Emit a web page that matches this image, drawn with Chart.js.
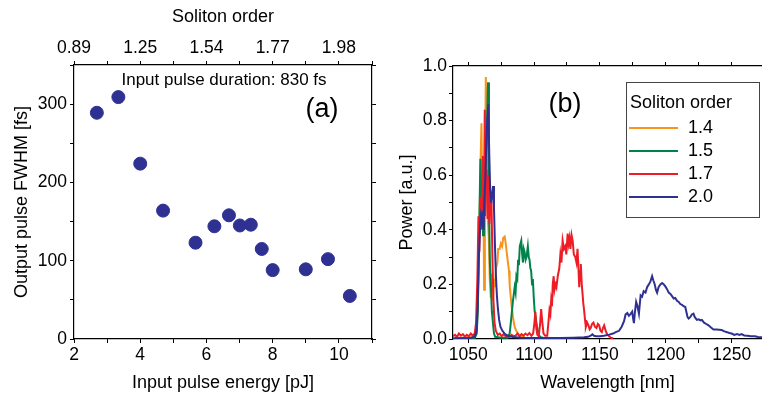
<!DOCTYPE html>
<html>
<head>
<meta charset="utf-8">
<script src="https://cdn.jsdelivr.net/npm/chart.js@4.4.1/dist/chart.umd.min.js"></script>
<style>
  html, body { margin: 0; padding: 0; background: #fff; }
  #wrap { position: relative; width: 762px; height: 398px; }
  canvas { position: absolute; top: 0; }
  #left { left: 0; }
  #right { left: 390px; }
</style>
</head>
<body>
<div id="wrap">
  <canvas id="left" width="390" height="398"></canvas>
  <canvas id="right" width="372" height="398"></canvas>
</div>
<script>
// (a) output pulse width vs input energy
const energy = [2.69, 3.34, 4.0, 4.69, 5.67, 6.24, 6.68, 7.01, 7.34, 7.67, 8.0, 9.0, 9.67, 10.33];
const fwhm = [289, 309, 224, 164, 123, 144, 158, 145, 146, 115, 88, 89, 102, 55];
const energyTicks = [2, 3, 4, 5, 6, 7, 8, 9, 10, 11];
const energyLabels = { 2: '2', 4: '4', 6: '6', 8: '8', 10: '10' };
const solitonLabels = { 2: '0.89', 4: '1.25', 6: '1.54', 8: '1.77', 10: '1.98' };
const fwhmTicks = [0, 50, 100, 150, 200, 250, 300, 350];

// (b) spectra for different soliton orders
const seriesNames = ['1.4', '1.5', '1.7', '2.0'];

const wl14 = [1040, 1050, 1055, 1056.5, 1057.5, 1058.5, 1059.3, 1060.1, 1060.7, 1061.4, 1062.1, 1062.7, 1063.4, 1064.1,
  1064.8, 1065.6, 1066.4, 1067.2, 1068, 1068.8, 1069.6, 1070.3, 1071.2, 1072.2, 1072.8, 1073.9, 1074.8, 1075.8,
  1076.6, 1077.7, 1078.5, 1079.2, 1080.2, 1081, 1081.5, 1082.2, 1083, 1084, 1085.3, 1086.5, 1087.8, 1089, 1091, 1093];
const p14 = [0.005, 0.005, 0.01, 0.03, 0.15, 0.4, 0.62, 0.79, 0.5, 0.66, 0.18, 0.6, 0.96, 0.72,
  0.45, 0.38, 0.22, 0.15, 0.24, 0.14, 0.22, 0.19, 0.26, 0.28, 0.33, 0.33, 0.35, 0.34,
  0.37, 0.375, 0.35, 0.32, 0.28, 0.25, 0.2, 0.16, 0.12, 0.08, 0.044, 0.03, 0.02, 0.012, 0.01, 0.008];

const wl15 = [1040, 1055, 1056.5, 1057.3, 1058.2, 1059.3, 1059.9, 1060.6, 1061.3, 1062, 1062.8, 1063.6, 1064.4, 1065.1,
  1065.8, 1066.5, 1067.2, 1068, 1068.8, 1069.6, 1070.5, 1075, 1080, 1081.5, 1082.8, 1084, 1085.3, 1086, 1086.6,
  1087.3, 1087.9, 1088.5, 1089.2, 1090.3, 1091, 1091.6, 1092.2, 1092.8, 1093.6, 1094.3, 1095.3, 1096, 1096.6,
  1097.2, 1097.8, 1098.5, 1099.1, 1099.8, 1100.5, 1101.2, 1102.3, 1103.6, 1105, 1107];
const p15 = [0.003, 0.004, 0.02, 0.1, 0.35, 0.66, 0.42, 0.58, 0.38, 0.52, 0.45, 0.68, 0.8, 0.94,
  0.5, 0.28, 0.2, 0.1, 0.06, 0.02, 0.008, 0.005, 0.005, 0.02, 0.08, 0.14, 0.19, 0.17, 0.23,
  0.22, 0.29, 0.27, 0.34, 0.36, 0.31, 0.28, 0.33, 0.32, 0.29, 0.3, 0.34, 0.3, 0.29,
  0.26, 0.25, 0.2, 0.22, 0.15, 0.1, 0.08, 0.044, 0.015, 0.006, 0.005];

const wl17 = [1038.5, 1040, 1041.5, 1043, 1044.5, 1046, 1047.5, 1049, 1050.5, 1052, 1053.5, 1055, 1056, 1057,
  1057.8, 1058.5, 1059.2, 1060, 1060.6, 1061.3, 1061.9, 1062.6, 1063.3, 1064, 1064.7, 1065.4, 1066.1, 1066.8,
  1067.7, 1068.4, 1069.2, 1070, 1071, 1072.5, 1074, 1075.5, 1077, 1078.5, 1080, 1081.5, 1083, 1084.5, 1086,
  1087.5, 1089, 1090.5, 1092, 1093.5, 1095, 1096.5, 1098, 1099.3, 1100.3, 1101, 1101.7, 1102.5, 1103.5, 1104.5,
  1105.4, 1106.3, 1107.2, 1108.5, 1110, 1110.9, 1111.7, 1112.4, 1113, 1113.6, 1114.2, 1114.9, 1115.5, 1116.3,
  1117, 1118, 1119.2, 1120, 1120.8, 1121.7, 1122.7, 1123.7, 1124.5, 1125.5, 1126.2, 1126.9, 1127.6, 1128.5,
  1129.3, 1130.2, 1131.3, 1132.2, 1133, 1133.7, 1134.3, 1134.9, 1135.5, 1136.2, 1136.8, 1137.4, 1138, 1138.7,
  1139.3, 1140.3, 1141.3, 1142.2, 1143, 1144, 1145.1, 1146.2, 1147.4, 1148.4, 1149.4, 1150.4, 1151.4, 1152.3,
  1153.2, 1154.4, 1155.7, 1157, 1158.2, 1160];
const p17 = [0.01, 0.015, 0.008, 0.02, 0.012, 0.018, 0.008, 0.015, 0.01, 0.02, 0.012, 0.02, 0.06, 0.22,
  0.45, 0.32, 0.52, 0.4, 0.58, 0.67, 0.44, 0.84, 0.55, 0.62, 0.44, 0.6, 0.42, 0.52,
  0.5, 0.3, 0.14, 0.06, 0.03, 0.015, 0.02, 0.01, 0.018, 0.01, 0.012, 0.008, 0.015, 0.01, 0.012,
  0.02, 0.01, 0.018, 0.012, 0.02, 0.014, 0.022, 0.012, 0.02, 0.06, 0.1, 0.04, 0.015, 0.01, 0.05,
  0.11, 0.06, 0.02, 0.012, 0.012, 0.06, 0.105, 0.09, 0.14, 0.12, 0.2, 0.23, 0.18, 0.2,
  0.19, 0.23, 0.26, 0.31, 0.28, 0.36, 0.33, 0.34, 0.31, 0.386, 0.35, 0.37, 0.33, 0.38,
  0.36, 0.31, 0.3, 0.28, 0.33, 0.26, 0.19, 0.25, 0.275, 0.2, 0.166, 0.13, 0.105, 0.07,
  0.044, 0.06, 0.05, 0.035, 0.04, 0.055, 0.06, 0.045, 0.04, 0.055, 0.05, 0.03, 0.025, 0.04,
  0.05, 0.03, 0.015, 0.01, 0.005, 0.003];

const wl20 = [1038.5, 1045, 1052, 1055, 1056.3, 1057.2, 1058, 1058.8, 1059.5, 1060.3, 1061, 1061.7, 1062.4, 1063.1,
  1063.8, 1064.5, 1065.3, 1066, 1066.7, 1067.4, 1068.2, 1068.9, 1069.6, 1070.3, 1071, 1071.8, 1072.6, 1073.5,
  1074.5, 1076, 1078, 1080, 1084, 1090, 1100, 1110, 1120, 1130, 1138, 1141, 1143, 1144.3, 1145.5, 1147, 1150,
  1153, 1157, 1160, 1162, 1164.5, 1166.5, 1168.3, 1169.5, 1170.8, 1172, 1173.3, 1174.5, 1175.2, 1175.8, 1176.6,
  1177.5, 1178.5, 1179.6, 1180.3, 1180.9, 1182, 1183.2, 1184.6, 1185.8, 1187.1, 1188.3, 1189.6, 1190.5, 1191.6,
  1192.5, 1193.4, 1194.5, 1195.9, 1197.2, 1198.5, 1200, 1201.2, 1202.2, 1203.5, 1205, 1206, 1207.2, 1208.5,
  1209.8, 1211, 1212.3, 1213.5, 1214.8, 1215.8, 1216.5, 1217.3, 1218.5, 1219.8, 1221, 1222, 1223.6, 1225,
  1226.3, 1227.4, 1229, 1230.7, 1232.4, 1234.3, 1236.2, 1238.5, 1240.5, 1242.4, 1244.5, 1246.5, 1248.3, 1250,
  1252, 1254, 1256, 1257.5, 1259.5, 1262, 1264.5, 1267.6, 1270, 1273];
const p20 = [0.003, 0.003, 0.004, 0.008, 0.03, 0.12, 0.28, 0.38, 0.45, 0.43, 0.47, 0.4, 0.52, 0.6,
  0.72, 0.8, 0.86, 0.68, 0.55, 0.5, 0.53, 0.56, 0.48, 0.35, 0.24, 0.16, 0.11, 0.07,
  0.045, 0.03, 0.018, 0.012, 0.007, 0.005, 0.004, 0.004, 0.004, 0.005, 0.006, 0.008, 0.012, 0.017, 0.012, 0.01, 0.01,
  0.012, 0.016, 0.02, 0.025, 0.03, 0.045, 0.065, 0.09, 0.095, 0.085, 0.092, 0.1, 0.075, 0.058, 0.1,
  0.136, 0.12, 0.093, 0.13, 0.16, 0.155, 0.175, 0.17, 0.19, 0.2, 0.21, 0.23, 0.215, 0.2,
  0.18, 0.17, 0.19, 0.2, 0.205, 0.2, 0.19, 0.18, 0.17, 0.165, 0.155, 0.148, 0.15, 0.14,
  0.136, 0.128, 0.125, 0.12, 0.117, 0.095, 0.08, 0.075, 0.08, 0.09, 0.093, 0.08, 0.07, 0.072,
  0.068, 0.07, 0.06, 0.055, 0.05, 0.042, 0.035, 0.035, 0.034, 0.033, 0.028, 0.025, 0.022, 0.02,
  0.015, 0.018, 0.015, 0.018, 0.013, 0.012, 0.01, 0.01, 0.007, 0.006];

const wlTicks = [1050, 1075, 1100, 1125, 1150, 1175, 1200, 1225, 1250];
const powerTicks = [0, 0.1, 0.2, 0.3, 0.4, 0.5, 0.6, 0.7, 0.8, 0.9, 1.0];

const FONT = "'Liberation Sans', Arial, Helvetica, sans-serif";
Chart.defaults.font.family = FONT;
Chart.defaults.color = '#000';

const toPoints = (xs, ys) => xs.map((x, i) => ({ x: x, y: ys[i] }));
const fixTicks = values => scale => { scale.ticks = values.map(v => ({ value: v })); };

const frameAxis = (extra) => Object.assign({
	type: 'linear',
	grid: { drawOnChartArea: false, drawTicks: true, tickLength: 4, color: '#000', lineWidth: 1 },
	border: { display: true, color: '#000', width: 1.2 },
	ticks: { autoSkip: false, maxRotation: 0, font: { size: 17.5 }, color: '#000', padding: 2 }
}, extra);

const notes = {
	id: 'notes',
	afterDraw(chart, args, opts) {
		const ctx = chart.ctx;
		ctx.save();
		ctx.fillStyle = '#000';
		ctx.textBaseline = 'middle';
		(opts.items || []).forEach(t => {
			ctx.font = t.size + 'px ' + FONT;
			ctx.textAlign = t.align || 'center';
			ctx.fillText(t.text, t.x, t.y);
		});
		ctx.restore();
	}
};

const boxLegend = {
	id: 'boxLegend',
	afterDraw(chart, args, opts) {
		if (!opts.box) return;
		const ctx = chart.ctx;
		const b = opts.box;
		ctx.save();
		ctx.fillStyle = '#fff';
		ctx.fillRect(b.x, b.y, b.w, b.h);
		ctx.strokeStyle = '#444';
		ctx.lineWidth = 1;
		ctx.strokeRect(b.x + 0.5, b.y + 0.5, b.w, b.h);
		ctx.fillStyle = '#000';
		ctx.textBaseline = 'middle';
		ctx.textAlign = 'left';
		ctx.font = '18px ' + FONT;
		ctx.fillText(opts.title, b.x + 4, b.y + 21);
		chart.data.datasets.forEach((ds, i) => {
			const y = b.y + 46 + i * 23;
			ctx.strokeStyle = ds.borderColor;
			ctx.lineWidth = 2;
			ctx.beginPath();
			ctx.moveTo(b.x + 3, y);
			ctx.lineTo(b.x + 52, y);
			ctx.stroke();
			ctx.fillText(ds.label, b.x + 62, y);
		});
		ctx.restore();
	}
};

// ---- left chart (a)
new Chart(document.getElementById('left'), {
	type: 'scatter',
	data: {
		datasets: [{
			data: toPoints(energy, fwhm),
			backgroundColor: '#2E3192',
			borderColor: '#2E3192',
			pointRadius: 6.5,
			pointHoverRadius: 6.5
		}]
	},
	options: {
		responsive: false,
		animation: false,
		devicePixelRatio: 1,
		layout: { padding: 0 },
		plugins: {
			legend: { display: false },
			tooltip: { enabled: false },
			notes: {
				items: [
					{ text: 'Input pulse duration: 830 fs', x: 224, y: 80, size: 17 },
					{ text: '(a)', x: 322, y: 110, size: 27 }
				]
			}
		},
		scales: {
			x: frameAxis({
				position: 'bottom', min: 2, max: 11,
				afterBuildTicks: fixTicks(energyTicks),
				afterFit: s => { s.height = 59; },
				ticks: { autoSkip: false, maxRotation: 0, font: { size: 17.5 }, color: '#000', padding: 2,
					callback: v => energyLabels[v] || '' },
				title: { display: true, text: 'Input pulse energy [pJ]', font: { size: 18 }, padding: { top: 0, bottom: 4 } }
			}),
			x2: frameAxis({
				axis: 'x', position: 'top', min: 2, max: 11,
				afterBuildTicks: fixTicks(energyTicks),
				afterFit: s => { s.height = 65; },
				ticks: { autoSkip: false, maxRotation: 0, font: { size: 17.5 }, color: '#000', padding: 2,
					callback: v => solitonLabels[v] || '' },
				title: { display: true, text: 'Soliton order', font: { size: 18 }, padding: { top: 6, bottom: 0 } }
			}),
			y: frameAxis({
				position: 'left', min: 0, max: 350,
				afterBuildTicks: fixTicks(fwhmTicks),
				afterFit: s => { s.width = 74; },
				ticks: { autoSkip: false, font: { size: 17.5 }, color: '#000', padding: 3,
					callback: v => (v % 100 === 0 ? String(v) : '') },
				title: { display: true, text: 'Output pulse FWHM [fs]', font: { size: 18 }, padding: { top: 11, bottom: 0 } }
			}),
			y2: frameAxis({
				axis: 'y', position: 'right', min: 0, max: 350,
				afterBuildTicks: fixTicks(fwhmTicks),
				afterFit: s => { s.width = 18; },
				ticks: { autoSkip: false, callback: () => '' }
			})
		}
	},
	plugins: [notes]
});

// ---- right chart (b)
const colors = ['#F7941D', '#00834A', '#EE1C25', '#2E3192'];
const spectra = [toPoints(wl14, p14), toPoints(wl15, p15), toPoints(wl17, p17), toPoints(wl20, p20)];

new Chart(document.getElementById('right'), {
	type: 'line',
	data: {
		datasets: spectra.map((pts, i) => ({
			label: seriesNames[i],
			data: pts,
			borderColor: colors[i],
			borderWidth: 2,
			pointRadius: 0,
			tension: 0,
			fill: false,
			order: 3 - i
		}))
	},
	options: {
		responsive: false,
		animation: false,
		devicePixelRatio: 1,
		layout: { padding: 0 },
		plugins: {
			legend: { display: false },
			tooltip: { enabled: false },
			notes: { items: [{ text: '(b)', x: 175, y: 105, size: 27 }] },
			boxLegend: { title: 'Soliton order', box: { x: 236, y: 82, w: 133, h: 135 } }
		},
		scales: {
			x: frameAxis({
				position: 'bottom', min: 1038.5, max: 1273,
				afterBuildTicks: fixTicks(wlTicks),
				afterFit: s => { s.height = 59; },
				ticks: { autoSkip: false, maxRotation: 0, font: { size: 17.5 }, color: '#000', padding: 2,
					callback: v => (v % 50 === 0 ? String(v) : '') },
				title: { display: true, text: 'Wavelength [nm]', font: { size: 18 }, padding: { top: 0, bottom: 4 } }
			}),
			x2: frameAxis({
				axis: 'x', position: 'top', min: 1038.5, max: 1273,
				afterBuildTicks: fixTicks(wlTicks),
				afterFit: s => { s.height = 66; },
				ticks: { autoSkip: false, callback: () => '' }
			}),
			y: frameAxis({
				position: 'left', min: 0, max: 1.0,
				afterBuildTicks: fixTicks(powerTicks),
				afterFit: s => { s.width = 63; },
				ticks: { autoSkip: false, font: { size: 17.5 }, color: '#000', padding: 2,
					callback: v => (Math.round(v * 10) % 2 === 0 ? v.toFixed(1) : '') },
				title: { display: true, text: 'Power [a.u.]', font: { size: 18 }, padding: { top: 6, bottom: 0 } }
			})
		}
	},
	plugins: [notes, boxLegend]
});
</script>
</body>
</html>
